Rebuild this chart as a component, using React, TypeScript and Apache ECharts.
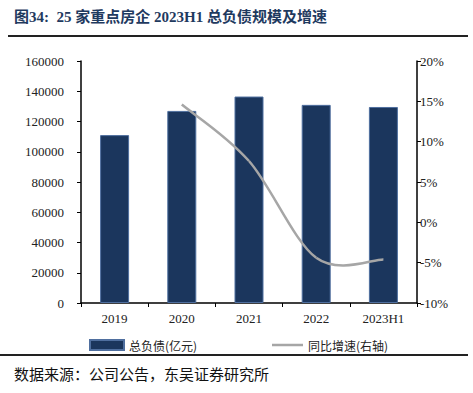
import React, { useEffect, useRef } from "react";
import * as echarts from "echarts";

const categories = ["2019", "2020", "2021", "2022", "2023H1"];
const totalDebt = [111000, 127000, 136500, 131000, 129600];
const growth: (number | null)[] = [null, 14.6, 7.6, -4.4, -4.6];
const leftTicks = [0, 20000, 40000, 60000, 80000, 100000, 120000, 140000, 160000];
const rightTicks = [-10, -5, 0, 5, 10, 15, 20];

const serif = "'Liberation Serif', 'Times New Roman', 'Noto Sans CJK SC', serif";
const cjk = "'Noto Sans CJK SC', serif";

export default function App() {
  const ref = useRef<HTMLDivElement>(null);
  useEffect(() => {
    if (!ref.current) return;
    const chart = echarts.init(ref.current, undefined, { renderer: "svg" });
    const linePoints: [number, number][] = [];
    growth.forEach((v, i) => {
      if (v !== null) linePoints.push([i, v]);
    });
    chart.setOption({
      animation: false,
      backgroundColor: "#ffffff",
      textStyle: { fontFamily: serif },
      grid: { left: 81, right: 56, top: 61, bottom: 90 },
      graphic: [
        {
          type: "text",
          left: 14,
          top: 9,
          style: {
            text: "图34:  25 家重点房企 2023H1 总负债规模及增速",
            fontFamily: "'Liberation Serif', 'Noto Sans CJK SC', serif",
            fontWeight: "bold",
            fontSize: 15,
            fill: "#1f3a5f",
          },
        },
        {
          type: "line",
          shape: { x1: 8, y1: 36, x2: 468, y2: 36 },
          style: { stroke: "#222", lineWidth: 2 },
        },
        {
          type: "line",
          shape: { x1: 0, y1: 355, x2: 468, y2: 355 },
          style: { stroke: "#222", lineWidth: 2 },
        },
        {
          type: "text",
          left: 14,
          top: 366,
          style: {
            text: "数据来源：公司公告，东吴证券研究所",
            fontFamily: cjk,
            fontSize: 15,
            fill: "#111",
          },
        },
      ],
      legend: [
        {
          left: 84,
          top: 334,
          itemWidth: 34,
          itemHeight: 10,
          itemGap: 4,
          textStyle: { fontFamily: cjk, fontSize: 12, color: "#222" },
          data: [{ name: "总负债(亿元)", icon: "rect" }],
        },
        {
          left: 267,
          top: 334,
          itemWidth: 31,
          itemHeight: 2.5,
          itemGap: 4,
          textStyle: { fontFamily: cjk, fontSize: 12, color: "#222" },
          data: [{ name: "同比增速(右轴)", icon: "rect", itemStyle: { color: "#a6a6a6" } }],
        },
      ],
      xAxis: {
        type: "category",
        data: categories,
        axisLine: { lineStyle: { color: "#000", width: 1.5 } },
        axisTick: { show: true, inside: false, length: 4, lineStyle: { color: "#000" } },
        axisLabel: { color: "#222", fontSize: 13, fontFamily: serif, margin: 9 },
      },
      yAxis: [
        {
          type: "value",
          min: leftTicks[0],
          max: leftTicks[leftTicks.length - 1],
          interval: 20000,
          splitLine: { show: false },
          axisLine: { show: true, lineStyle: { color: "#000", width: 1.5 } },
          axisTick: { show: true, length: 4, lineStyle: { color: "#000" } },
          axisLabel: {
            color: "#222",
            fontSize: 13,
            fontFamily: serif,
            margin: 17,
            formatter: (v: number) => String(v),
          },
        },
        {
          type: "value",
          min: rightTicks[0],
          max: rightTicks[rightTicks.length - 1],
          interval: 5,
          position: "right",
          splitLine: { show: false },
          axisLine: { show: true, lineStyle: { color: "#000", width: 1.5 } },
          axisTick: { show: true, length: 4, lineStyle: { color: "#000" } },
          axisLabel: { color: "#222", fontSize: 13, fontFamily: serif, margin: 3, formatter: "{value}%" },
        },
      ],
      series: [
        {
          name: "总负债(亿元)",
          type: "bar",
          z: 2,
          data: totalDebt,
          barWidth: 29,
          itemStyle: { color: "#1b365d", borderColor: "#4f6f9f", borderWidth: 1 },
        },
        {
          name: "同比增速(右轴)",
          type: "custom",
          z: 10,
          yAxisIndex: 1,
          data: linePoints,
          encode: { x: 0, y: 1 },
          itemStyle: { color: "#a6a6a6" },
          renderItem: (params: any, api: any) => {
            const k = params.dataIndex;
            if (k >= linePoints.length - 1) return null;
            const pts = linePoints.map((p) => api.coord(p));
            const p0 = pts[Math.max(k - 1, 0)];
            const p1 = pts[k];
            const p2 = pts[k + 1];
            const p3 = pts[Math.min(k + 2, pts.length - 1)];
            const t = 1 / 6;
            return {
              type: "bezierCurve",
              z2: 10,
              shape: {
                x1: p1[0],
                y1: p1[1],
                cpx1: p1[0] + (p2[0] - p0[0]) * t,
                cpy1: p1[1] + (p2[1] - p0[1]) * t,
                cpx2: p2[0] - (p3[0] - p1[0]) * t,
                cpy2: p2[1] - (p3[1] - p1[1]) * t,
                x2: p2[0],
                y2: p2[1],
              },
              style: { stroke: "#a6a6a6", lineWidth: 2.5, fill: "none" },
            };
          },
        },
      ],
    });
    return () => chart.dispose();
  }, []);
  return <div ref={ref} style={{ width: 473, height: 393, position: "absolute", left: 0, top: 0 }} />;
}
